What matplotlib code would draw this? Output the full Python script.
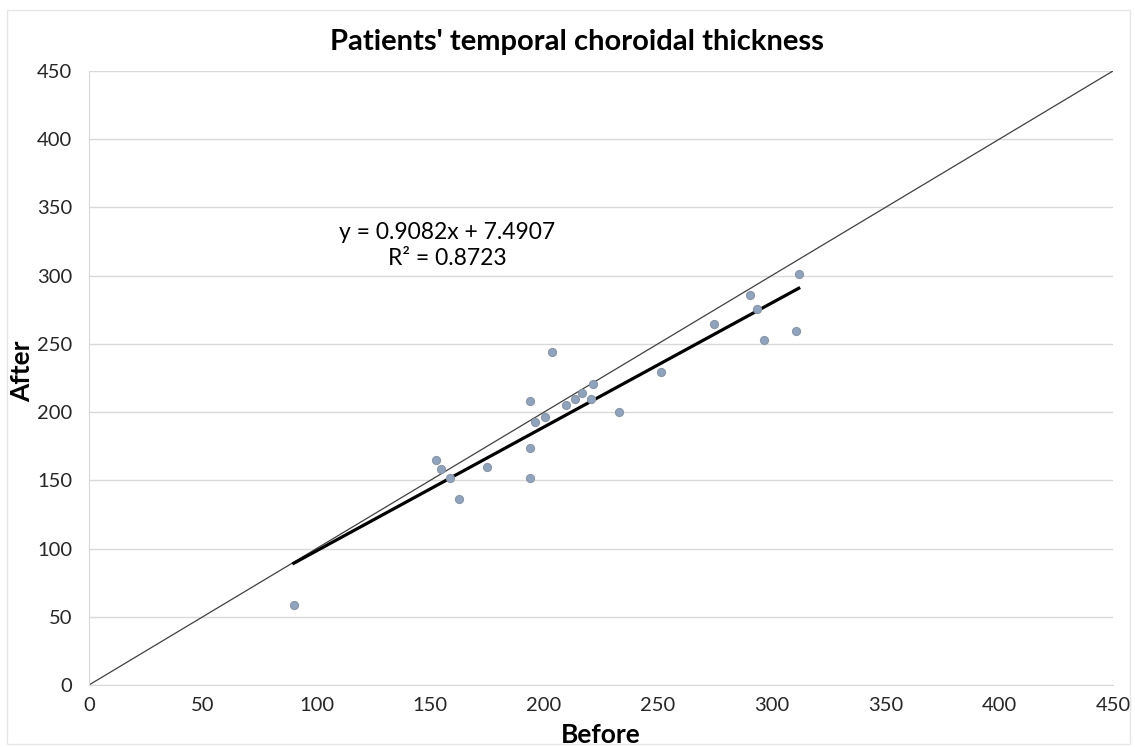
import matplotlib.pyplot as plt
from matplotlib.patches import Rectangle
import numpy as np

plt.rcParams['font.family'] = ['Lato', 'DejaVu Sans']

# before / after temporal choroidal thickness
before = [90, 152.5, 154.7, 158.5, 162.5, 175, 194, 196, 200.5, 194, 194, 203.5,
          209.6, 213.7, 216.8, 221.6, 220.7, 232.7, 251.4, 274.5, 290.6, 293.4,
          296.5, 310.7, 311.9]
after = [58.5, 165, 158, 151.5, 136.5, 160, 208, 193, 196.5, 173.5, 151.5, 244.3,
         205, 209.6, 214, 220.4, 209.4, 200.3, 229.2, 264.4, 286, 275.6,
         252.6, 259.2, 301]
slope, intercept, r2 = 0.9082, 7.4907, 0.8723
ticks = np.arange(0, 451, 50)

fig = plt.figure(figsize=(11.35, 7.47), dpi=100)
ax = fig.add_axes([0.0784, 0.083, 0.9022, 0.822])

# faint chart border
fig.patches.append(Rectangle((0.006, 0.004), 0.99, 0.983, transform=fig.transFigure,
                             fill=False, edgecolor='#e6e6e6', linewidth=1))

ax.set_xlim(0, 450)
ax.set_ylim(0, 450)
ax.set_xticks(ticks)
ax.set_yticks(ticks)
ax.grid(axis='y', color='#d9d9d9', linewidth=1)
ax.set_axisbelow(True)
for s in ['top', 'right']:
    ax.spines[s].set_visible(False)
for s in ['left', 'bottom']:
    ax.spines[s].set_color('#d9d9d9')
ax.tick_params(length=0, labelsize=14.5, colors='#262626')
ax.tick_params(axis='y', pad=12)
ax.tick_params(axis='x', pad=9)

# line of equality
ax.plot([0, 450], [0, 450], color='#404040', linewidth=0.9)

# linear trend
xs = np.array([min(before), max(before)])
ax.plot(xs, slope * xs + intercept, color='black', linewidth=2.3)

ax.scatter(before, after, s=34, color='#8fa3bd', edgecolors='#8a96a8',
           linewidths=0.8, zorder=3)

ax.text(157.5, 322, f'y = {slope}x + {intercept}\nR² = {r2}', ha='center',
        va='center', fontsize=16.5, linespacing=1.3, color='black')

fig.text(0.508, 0.944, "Patients' temporal choroidal thickness", ha='center',
         va='center', fontsize=21, fontweight='bold')
fig.text(601 / 1135, 1 - 735 / 747, 'Before', ha='center', va='center',
         fontsize=19, fontweight='bold')
fig.text(22 / 1135, 1 - 371 / 747, 'After', ha='center', va='center',
         rotation=90, fontsize=19, fontweight='bold')

fig.savefig('out.png', dpi=100)
